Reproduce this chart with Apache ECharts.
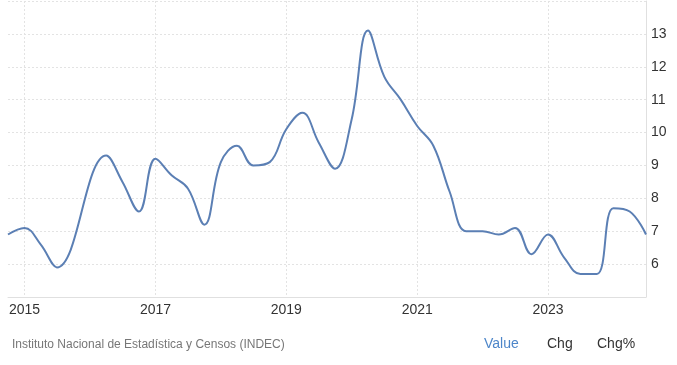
<!DOCTYPE html>
<html><head><meta charset="utf-8">
<script src="https://cdn.jsdelivr.net/npm/echarts@6/dist/echarts.min.js"></script>
<style>html,body{margin:0;padding:0;background:#fff}#c{width:677px;height:365px}</style>
</head><body><div id="c"></div>
<script>
const dates = ['2014-10-01','2015-01-01','2015-04-01','2015-07-01',
 '2016-04-01','2016-07-01','2016-10-01',
 '2017-01-01','2017-04-01','2017-07-01','2017-10-01',
 '2018-01-01','2018-04-01','2018-07-01','2018-10-01',
 '2019-01-01','2019-04-01','2019-07-01','2019-10-01',
 '2020-01-01','2020-04-01','2020-07-01','2020-10-01',
 '2021-01-01','2021-04-01','2021-07-01','2021-10-01',
 '2022-01-01','2022-04-01','2022-07-01','2022-10-01',
 '2023-01-01','2023-04-01','2023-07-01','2023-10-01',
 '2024-01-01','2024-04-01','2024-07-01'];
const values = [6.9,7.1,6.6,5.9,
 9.3,8.5,7.6,
 9.2,8.7,8.3,7.2,
 9.1,9.6,9.0,9.1,
 10.1,10.6,9.7,8.9,
 10.4,13.1,11.7,11.0,
 10.2,9.6,8.2,7.0,
 7.0,6.9,7.1,6.3,
 6.9,6.2,5.7,5.7,
 7.7,7.6,6.9];
const xTickLabels = ['2015','2017','2019','2021','2023'];
const source = 'Instituto Nacional de Estadística y Censos (INDEC)';
const tabs = ['Value','Chg','Chg%'];

const ts = s => Date.UTC(+s.slice(0,4), +s.slice(5,7) - 1, +s.slice(8,10));
const tickVals = xTickLabels.map(y => ts(y + '-01-01'));
const font = 'Liberation Sans, Arial, sans-serif';
const chart = echarts.init(document.getElementById('c'));
chart.setOption({
  animation: false,
  textStyle: {fontFamily: font},
  grid: {left: 8, right: 31, top: 1, bottom: 68, containLabel: false},
  xAxis: {
    type: 'value',
    min: ts(dates[0]), max: ts(dates[dates.length - 1]),
    axisLine: {show: true, lineStyle: {color: '#e0e0e0', width: 1}},
    axisTick: {show: false, customValues: tickVals},
    axisLabel: {customValues: tickVals, color: '#333', fontSize: 14, margin: 6,
      formatter: v => String(new Date(v).getUTCFullYear())},
    splitLine: {show: true, lineStyle: {color: '#e3e3e3', type: [2, 2], width: 1}}
  },
  yAxis: {
    type: 'value', position: 'right', min: 5, max: 14, interval: 1,
    axisLine: {show: true, lineStyle: {color: '#e0e0e0', width: 1}},
    axisTick: {show: false},
    axisLabel: {color: '#333', fontSize: 14, margin: 5, showMinLabel: false, showMaxLabel: false},
    splitLine: {show: true, lineStyle: {color: '#e3e3e3', type: [2, 2], width: 1}}
  },
  series: [{
    type: 'line', smooth: 0.4, symbol: 'none',
    data: dates.map((d, i) => [ts(d), values[i]]),
    lineStyle: {color: '#5b7fb4', width: 2}
  }],
  graphic: [
    {type: 'text', left: 12, top: 339, style: {text: source, fill: '#777', fontSize: 12, fontFamily: font}},
    {type: 'text', left: 484, top: 337, style: {text: tabs[0], fill: '#4d86c9', fontSize: 14, fontFamily: font}},
    {type: 'text', left: 547, top: 337, style: {text: tabs[1], fill: '#333', fontSize: 14, fontFamily: font}},
    {type: 'text', left: 597, top: 337, style: {text: tabs[2], fill: '#333', fontSize: 14, fontFamily: font}}
  ]
});
</script></body></html>
